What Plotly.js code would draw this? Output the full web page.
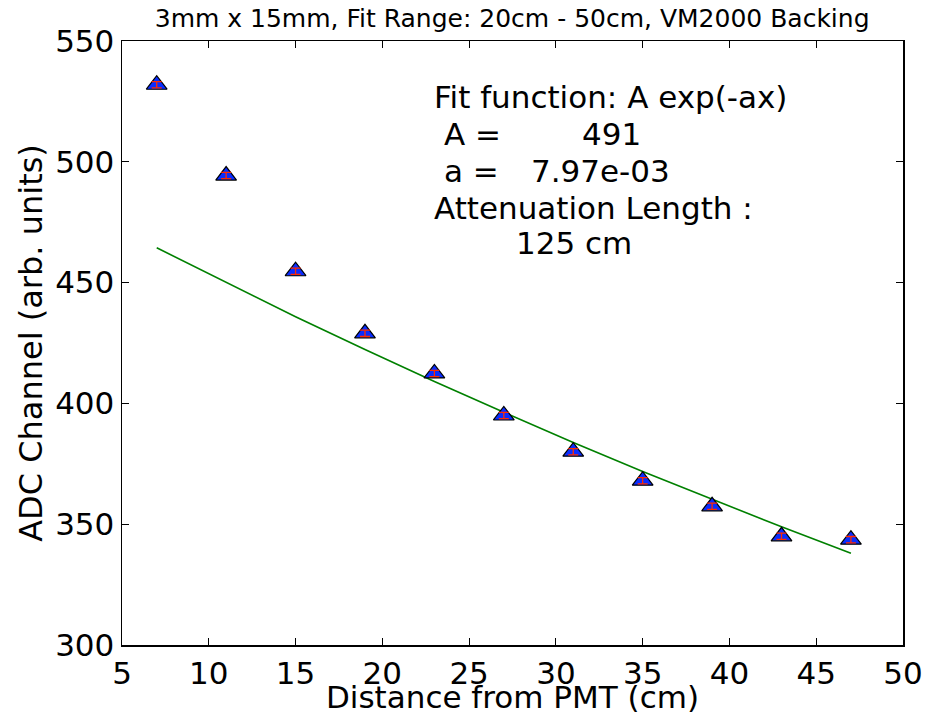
<!DOCTYPE html>
<html>
<head>
<meta charset="utf-8">
<script src="https://cdn.plot.ly/plotly-3.0.1.min.js"></script>
<style>html,body{margin:0;padding:0;background:#fff;}#chart{width:931px;height:715px;}</style>
</head>
<body>
<div id="chart"></div>
<script>
// Data
var distance = [7, 11, 15, 19, 23, 27, 31, 35, 39, 43, 47];
var adc = [531.9, 494.3, 454.7, 429.0, 412.4, 395.0, 380.0, 368.0, 357.4, 345.0, 343.6];
var adcErr = [1.3, 1.3, 1.3, 1.3, 1.3, 1.3, 1.3, 1.3, 1.3, 1.3, 1.3];
var fitValues = [464.4, 450.0, 435.9, 422.3, 409.1, 396.3, 383.8, 371.8, 360.2, 348.9, 338.0];
var xTicks = [5, 10, 15, 20, 25, 30, 35, 40, 45, 50];
var yTicks = [300, 350, 400, 450, 500, 550];
var titleText = '3mm x 15mm, Fit Range: 20cm - 50cm, VM2000 Backing';
var xTitle = 'Distance from PMT (cm)';
var yTitle = 'ADC Channel (arb. units)';
var fitLines = ['Fit function: A exp(-ax)', 'A =', '491', 'a =', '7.97e-03', 'Attenuation Length :', '125 cm'];

var FONT = 'DejaVu Sans, Liberation Sans, sans-serif';

var traces = [
  {
    x: distance, y: fitValues, mode: 'lines', type: 'scatter',
    line: {color: '#008000', width: 1.6}, hoverinfo: 'skip'
  },
  {
    x: distance, y: adc, mode: 'markers', type: 'scatter',
    marker: {symbol: 'triangle-up', size: 18, color: '#0a2cff', line: {color: '#000000', width: 1.2}}
  },
  {
    x: distance, y: adc, mode: 'markers', type: 'scatter',
    marker: {size: 1, color: 'rgba(0,0,0,0)'},
    error_y: {type: 'data', array: adcErr, visible: true, color: '#ff2a00', thickness: 1.3, width: 5}
  }
];

function ann(text, px, py) {
  return {
    text: text, xref: 'paper', yref: 'paper',
    x: (px - 122) / 781, y: (645 - py) / 604,
    xanchor: 'left', yanchor: 'middle', showarrow: false, borderpad: 0,
    font: {family: FONT, size: 31, color: '#000'}
  };
}

var axisCommon = {
  showgrid: false, zeroline: false, showline: true, linecolor: '#000', linewidth: 1.5,
  mirror: 'ticks', ticks: 'inside', ticklen: 7, tickwidth: 1, tickcolor: '#000',
  tickfont: {family: FONT, size: 31, color: '#000'}
};

var layout = {
  width: 931, height: 715,
  margin: {l: 122, r: 28, t: 41, b: 70, pad: 0},
  paper_bgcolor: '#fff', plot_bgcolor: '#fff',
  showlegend: false,
  title: {text: titleText, font: {family: FONT, size: 25, color: '#000'}, x: 0.5501, xanchor: 'center', y: 0.975, yanchor: 'middle'},
  xaxis: Object.assign({}, axisCommon, {
    range: [5, 50], tickvals: xTicks, ticktext: xTicks.map(String),
    title: {text: xTitle, font: {family: FONT, size: 31, color: '#000'}, standoff: 0}
  }),
  yaxis: Object.assign({}, axisCommon, {
    range: [300, 550], tickvals: yTicks, ticktext: yTicks.map(String),
    title: {text: yTitle, font: {family: FONT, size: 32, color: '#000'}, standoff: 3}
  }),
  annotations: [
    ann(fitLines[0], 433, 97),
    ann(fitLines[1], 443, 134),
    ann(fitLines[2], 581, 134),
    ann(fitLines[3], 443, 171),
    ann(fitLines[4], 530, 171),
    ann(fitLines[5], 433, 208),
    ann(fitLines[6], 515, 243)
  ]
};

Plotly.newPlot('chart', traces, layout, {displayModeBar: false, staticPlot: true});
</script>
</body>
</html>
